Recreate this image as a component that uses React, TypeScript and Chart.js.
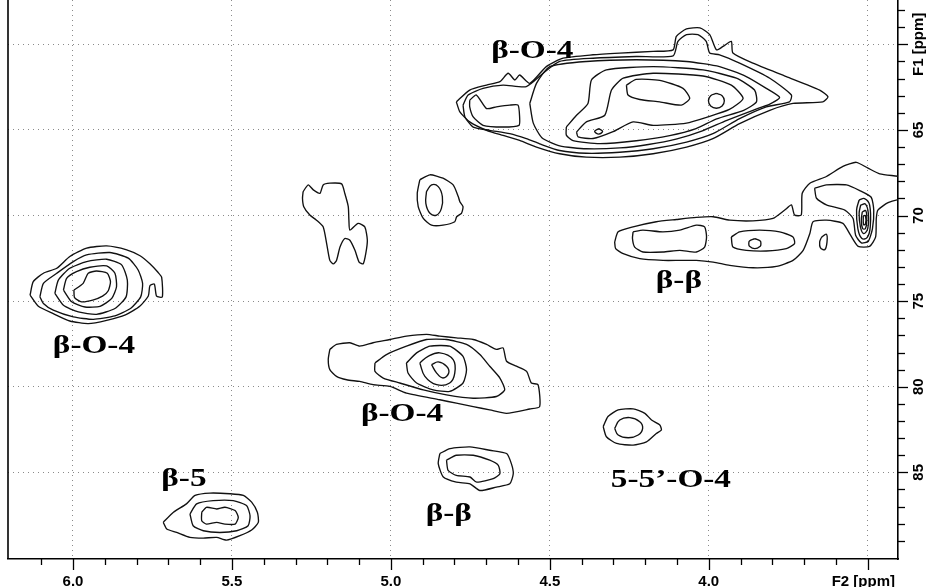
import React, { useEffect, useRef } from "react";
import { Chart, registerables } from "chart.js";

Chart.register(...registerables);

type P = [number, number];

// ---- axes (ppm) ----
const F2_LIMITS = [3.4047, 6.2044];
const F1_LIMITS = [57.41, 90.06];
const F2_MAJOR = [6.0, 5.5, 5.0, 4.5, 4.0, 3.5];
const F2_TICK_LABELS = ["6.0", "5.5", "5.0", "4.5", "4.0", "F2 [ppm]"];
const F1_MAJOR = [60, 65, 70, 75, 80, 85];
const F1_TICK_LABELS = ["F1 [ppm]", "65", "70", "75", "80", "85"];
const F2_MINOR_STEP = 0.1;
const F1_MINOR_STEP = 1;

// ---- peak annotations ----
const PEAK_TEXT = ["β-O-4", "β-O-4", "β-O-4", "β-β", "β-β", "β-5", "5-5’-O-4"];
const PEAK_F2 = [4.555, 5.934, 4.965, 4.094, 4.818, 5.651, 4.119];
const PEAK_F1 = [60.82, 78.05, 81.99, 74.23, 87.84, 85.8, 85.86];

// ---- contour lines: [F2 ppm, F1 ppm] ----
const TOP_L1: P[] = [[4.794,63.36],[4.752,62.67],[4.699,62.38],[4.657,62.18],[4.631,61.69],[4.610,62.08],[4.595,61.79],[4.563,62.28],[4.511,61.30],[4.458,60.81],[4.364,60.61],[4.280,60.51],[4.175,60.41],[4.112,60.32],[4.102,59.53],[4.070,59.10],[4.028,59.04],[3.997,59.43],[3.976,60.32],[3.955,60.12],[3.929,59.83],[3.924,60.51],[3.861,61.10],[3.756,61.88],[3.651,62.67],[3.625,63.06],[3.641,63.36],[3.735,63.45],[3.808,63.85],[3.903,64.63],[3.987,65.51],[4.070,66.00],[4.175,66.39],[4.280,66.59],[4.385,66.59],[4.469,66.39],[4.542,66.00],[4.595,65.61],[4.647,65.32],[4.699,65.02],[4.752,64.53],[4.783,63.94]];
const TOP_L2: P[] = [[4.773,63.55],[4.757,62.96],[4.710,62.57],[4.647,62.38],[4.574,62.47],[4.521,61.69],[4.469,61.00],[4.364,60.81],[4.228,60.71],[4.112,60.67],[4.097,59.83],[4.070,59.43],[4.034,59.43],[4.008,59.83],[3.997,60.51],[3.966,60.61],[3.903,61.10],[3.808,61.98],[3.740,62.96],[3.746,63.36],[3.819,63.65],[3.903,64.34],[3.987,65.22],[4.070,65.71],[4.175,66.10],[4.280,66.30],[4.385,66.36],[4.469,66.20],[4.532,65.81],[4.574,65.51],[4.626,65.22],[4.689,65.02],[4.741,64.83],[4.767,64.24]];
const TOP_LOBE: P[] = [[4.752,63.26],[4.731,62.96],[4.699,63.75],[4.668,63.65],[4.626,63.55],[4.600,63.55],[4.595,64.24],[4.597,64.73],[4.647,64.83],[4.710,64.73],[4.741,64.24],[4.752,63.65]];
const TOP_L3: P[] = [[4.563,63.45],[4.542,62.28],[4.500,61.30],[4.385,61.00],[4.228,60.90],[4.070,61.00],[3.966,61.30],[3.882,61.88],[3.819,62.57],[3.777,63.10],[3.808,63.49],[3.861,63.85],[3.945,64.45],[4.020,65.05],[4.100,65.52],[4.190,65.85],[4.280,66.05],[4.385,66.10],[4.469,65.93],[4.525,65.45],[4.552,64.60]];
const TOP_L4: P[] = [[4.448,64.83],[4.416,64.14],[4.380,63.45],[4.369,62.08],[4.322,61.49],[4.175,61.30],[4.018,61.49],[3.913,61.98],[3.856,62.67],[3.850,63.36],[3.890,63.85],[3.975,64.35],[4.040,64.92],[4.123,65.33],[4.228,65.63],[4.343,65.80],[4.427,65.62],[4.448,65.30]];
const TOP_L5: P[] = [[4.416,65.12],[4.385,64.53],[4.327,64.14],[4.306,62.67],[4.269,61.98],[4.175,61.69],[4.018,61.85],[3.929,62.38],[3.892,63.16],[3.935,63.80],[4.005,64.25],[4.070,64.60],[4.175,64.73],[4.238,64.53],[4.301,65.10],[4.364,65.50],[4.411,65.41]];
const TOP_CORE1: P[] = [[4.259,62.38],[4.228,62.05],[4.154,62.10],[4.081,62.57],[4.060,63.16],[4.086,63.55],[4.154,63.36],[4.217,63.22],[4.254,62.96]];
const TOP_CORE2: P[] = [[3.976,62.87],[3.958,63.00],[3.951,63.30],[3.958,63.60],[3.976,63.73],[3.994,63.60],[4.001,63.30],[3.994,63.00]];
const TOP_CORE3: P[] = [[4.346,64.92],[4.334,65.08],[4.346,65.24],[4.359,65.08]];

const LEFT_L1: P[] = [[6.135,74.65],[6.125,73.86],[6.093,73.37],[6.051,73.08],[6.010,72.39],[5.957,71.90],[5.894,71.77],[5.831,72.00],[5.789,72.35],[5.758,72.82],[5.732,73.33],[5.721,73.61],[5.719,74.75],[5.737,74.71],[5.744,74.00],[5.758,74.10],[5.763,74.70],[5.790,75.30],[5.835,75.80],[5.894,76.12],[5.952,76.31],[6.010,76.16],[6.062,75.73],[6.109,75.30]];
const LEFT_L2: P[] = [[6.104,74.75],[6.093,73.96],[6.051,73.37],[5.999,72.69],[5.957,72.30],[5.884,72.16],[5.826,72.49],[5.795,73.18],[5.781,73.96],[5.787,74.75],[5.819,75.43],[5.873,75.88],[5.936,76.06],[5.999,75.92],[6.062,75.53],[6.093,75.14]];
const LEFT_L3: P[] = [[6.057,74.55],[6.046,73.77],[6.010,73.08],[5.957,72.69],[5.894,72.55],[5.847,72.88],[5.829,73.77],[5.833,74.75],[5.868,75.43],[5.926,75.77],[5.983,75.63],[6.030,75.24]];
const LEFT_L4: P[] = [[6.030,74.35],[6.020,73.67],[5.989,73.28],[5.947,73.02],[5.894,72.94],[5.868,73.37],[5.863,74.16],[5.878,74.84],[5.915,75.30],[5.962,75.34],[6.004,75.04]];
const LEFT_L5: P[] = [[5.997,74.35],[5.968,73.96],[5.952,73.37],[5.926,73.24],[5.892,73.37],[5.882,73.86],[5.889,74.39],[5.907,74.71],[5.938,74.94],[5.973,75.04],[5.995,74.79]];

const MID_L1: P[] = [[5.192,77.82],[5.171,77.53],[5.129,77.43],[5.098,77.63],[5.056,77.43],[5.003,77.24],[4.951,77.04],[4.888,76.94],[4.846,77.04],[4.794,77.14],[4.741,77.24],[4.699,77.53],[4.668,77.82],[4.647,77.73],[4.636,78.51],[4.605,78.80],[4.573,79.10],[4.558,79.78],[4.537,79.88],[4.532,81.16],[4.563,81.30],[4.636,81.55],[4.689,81.35],[4.741,81.16],[4.794,80.96],[4.846,80.76],[4.951,80.37],[5.003,79.98],[5.056,79.88],[5.098,79.69],[5.139,79.59],[5.171,79.39],[5.192,79.00],[5.197,78.41]];
const MID_L2: P[] = [[5.050,78.61],[5.014,78.12],[4.951,77.63],[4.888,77.24],[4.825,77.24],[4.762,77.53],[4.720,78.12],[4.689,78.80],[4.657,79.49],[4.642,80.18],[4.668,80.57],[4.741,80.67],[4.825,80.47],[4.898,80.18],[4.972,79.78],[5.024,79.49],[5.050,79.10]];
const MID_L3: P[] = [[4.951,78.61],[4.919,78.02],[4.877,77.63],[4.815,77.63],[4.773,78.22],[4.762,79.00],[4.773,79.78],[4.815,80.27],[4.867,80.18],[4.919,79.78],[4.946,79.20]];
const MID_L4: P[] = [[4.909,78.61],[4.883,78.22],[4.846,78.02],[4.804,78.41],[4.799,79.20],[4.815,79.78],[4.856,79.88],[4.893,79.39]];
const MID_L5: P[] = [[4.872,78.71],[4.851,78.55],[4.825,78.80],[4.818,79.20],[4.836,79.49],[4.856,79.20]];

const BBLOW_OUT: P[] = [[4.846,83.90],[4.814,83.61],[4.751,83.51],[4.689,83.71],[4.636,83.90],[4.621,84.49],[4.615,85.08],[4.626,85.67],[4.668,85.86],[4.720,86.06],[4.751,85.67],[4.794,85.57],[4.835,85.27],[4.851,84.49]];
const BBLOW_IN: P[] = [[4.825,84.29],[4.794,84.00],[4.741,84.00],[4.689,84.29],[4.662,84.59],[4.657,85.08],[4.678,85.37],[4.730,85.57],[4.751,85.27],[4.794,85.18],[4.820,84.88]];

const B5_OUT: P[] = [[5.716,87.92],[5.684,87.33],[5.643,86.84],[5.616,86.35],[5.569,86.21],[5.506,86.25],[5.464,86.35],[5.438,86.74],[5.420,87.33],[5.417,87.92],[5.438,88.37],[5.475,88.70],[5.517,88.96],[5.548,88.80],[5.590,88.84],[5.632,88.80],[5.674,88.51],[5.705,88.31]];
const B5_MID: P[] = [[5.632,87.43],[5.611,86.84],[5.559,86.65],[5.496,86.65],[5.454,86.94],[5.443,87.53],[5.449,88.12],[5.485,88.41],[5.538,88.51],[5.590,88.41],[5.622,88.12]];
const B5_IN: P[] = [[5.595,87.33],[5.580,87.04],[5.548,87.14],[5.522,87.04],[5.490,87.23],[5.480,87.63],[5.490,88.02],[5.522,88.02],[5.548,87.92],[5.580,88.02],[5.595,87.82]];

const BLOB_WEST: P[] = [[5.276,68.60],[5.260,68.21],[5.244,68.50],[5.223,68.70],[5.213,68.21],[5.192,68.11],[5.155,68.15],[5.145,68.70],[5.134,69.48],[5.132,70.27],[5.129,70.85],[5.103,70.46],[5.082,70.66],[5.074,71.44],[5.079,72.23],[5.087,72.82],[5.100,72.72],[5.113,72.03],[5.129,71.44],[5.145,71.34],[5.160,71.84],[5.171,72.62],[5.181,72.82],[5.192,72.62],[5.202,71.64],[5.213,70.66],[5.234,70.27],[5.255,69.97],[5.274,69.48],[5.278,68.99]];
const BLOB_EAST_OUT: P[] = [[4.909,67.91],[4.877,67.62],[4.836,67.82],[4.804,68.21],[4.788,68.89],[4.783,69.19],[4.773,69.48],[4.778,69.87],[4.793,70.07],[4.799,70.36],[4.836,70.56],[4.872,70.56],[4.898,70.17],[4.914,69.48],[4.917,68.70]];
const BLOB_EAST_IN: P[] = [[4.888,68.60],[4.872,68.21],[4.851,68.31],[4.838,68.89],[4.841,69.58],[4.856,69.97],[4.877,69.87],[4.890,69.29]];

const SS_OUT: P[] = [[4.332,82.33],[4.317,81.74],[4.285,81.35],[4.238,81.29],[4.201,81.55],[4.180,81.94],[4.154,82.23],[4.149,82.53],[4.165,82.73],[4.196,83.22],[4.238,83.41],[4.290,83.31],[4.322,82.92]];
const SS_IN: P[] = [[4.296,82.43],[4.280,81.94],[4.248,81.80],[4.217,82.04],[4.208,82.43],[4.222,82.82],[4.253,82.98],[4.285,82.82]];

const BB_OUT: P[] = [[4.296,71.54],[4.285,70.95],[4.238,70.66],[4.165,70.36],[4.102,70.23],[4.039,70.11],[3.986,70.07],[3.934,70.27],[3.861,70.31],[3.798,70.17],[3.761,69.68],[3.740,69.38],[3.730,69.97],[3.709,69.97],[3.706,68.70],[3.682,68.11],[3.630,67.72],[3.578,67.13],[3.536,66.89],[3.499,67.23],[3.462,67.56],[3.399,67.72],[3.363,67.91],[3.363,68.99],[3.399,69.05],[3.436,69.25],[3.468,69.68],[3.473,70.17],[3.475,71.25],[3.494,71.80],[3.530,71.80],[3.554,71.15],[3.578,70.46],[3.630,70.27],[3.672,70.36],[3.682,71.05],[3.703,72.03],[3.735,72.62],[3.787,72.97],[3.861,73.05],[3.934,72.91],[3.986,72.72],[4.039,72.62],[4.091,72.62],[4.144,72.62],[4.217,72.52],[4.269,72.23],[4.293,71.93]];
const BB_UPPER: P[] = [[3.667,68.40],[3.630,68.21],[3.567,68.21],[3.525,68.54],[3.489,68.93],[3.481,69.68],[3.485,70.76],[3.498,71.50],[3.520,71.60],[3.538,71.15],[3.546,70.17],[3.572,69.68],[3.630,69.38],[3.661,68.99]];
const BB_TALL2: P[] = [[3.527,69.09],[3.510,69.01],[3.494,69.38],[3.492,70.66],[3.502,71.29],[3.519,71.33],[3.531,70.76],[3.535,69.68]];
const BB_TALL3: P[] = [[3.522,69.38],[3.507,69.33],[3.498,69.87],[3.500,70.76],[3.513,71.05],[3.523,70.66],[3.527,69.87]];
const BB_TALL4: P[] = [[3.517,69.78],[3.506,69.72],[3.503,70.27],[3.507,70.76],[3.516,70.76],[3.520,70.27]];
const BB_TALL5: P[] = [[3.514,70.03],[3.507,70.01],[3.507,70.50],[3.513,70.52]];
const BB_SPOT: P[] = [[3.646,71.29],[3.630,71.09],[3.628,71.54],[3.635,71.99],[3.649,71.87],[3.651,71.54]];
const BB_LEFT_IN: P[] = [[4.238,70.95],[4.207,70.85],[4.144,70.95],[4.091,70.85],[4.039,70.56],[4.013,70.66],[4.007,71.25],[4.013,71.84],[4.039,72.13],[4.091,72.03],[4.144,72.13],[4.207,72.13],[4.233,71.84],[4.240,71.34]];
const BB_RIGHT_IN: P[] = [[3.929,71.25],[3.903,70.95],[3.840,70.85],[3.777,70.95],[3.735,71.25],[3.730,71.64],[3.756,71.93],[3.819,72.07],[3.882,72.03],[3.924,71.84]];
const BB_RIGHT_CORE: P[] = [[3.855,71.35],[3.838,71.49],[3.836,71.64],[3.838,71.79],[3.855,71.93],[3.872,71.79],[3.874,71.64],[3.872,71.49]];

const CONTOURS: P[][] = [
  TOP_L1, TOP_L2, TOP_LOBE, TOP_L3, TOP_L4, TOP_L5, TOP_CORE1, TOP_CORE2, TOP_CORE3,
  LEFT_L1, LEFT_L2, LEFT_L3, LEFT_L4, LEFT_L5,
  MID_L1, MID_L2, MID_L3, MID_L4, MID_L5,
  BBLOW_OUT, BBLOW_IN,
  B5_OUT, B5_MID, B5_IN,
  BLOB_WEST, BLOB_EAST_OUT, BLOB_EAST_IN,
  SS_OUT, SS_IN,
  BB_OUT, BB_UPPER, BB_TALL2, BB_TALL3, BB_TALL4, BB_TALL5, BB_SPOT,
  BB_LEFT_IN, BB_RIGHT_IN, BB_RIGHT_CORE,
];

const TICK_FONT = "bold 15px 'Liberation Sans', Arial, sans-serif";
const PEAK_FONT = "bold 26px 'Liberation Serif', 'Times New Roman', serif";

const axesPlugin = {
  id: "nmrAxes",
  afterDraw(chart: any) {
    const { ctx, chartArea: a, scales } = chart;
    const xs = scales.x;
    const ys = scales.y;
    ctx.save();
    ctx.strokeStyle = "#000";
    ctx.fillStyle = "#000";
    // left frame line
    ctx.lineWidth = 1.6;
    ctx.beginPath();
    ctx.moveTo(a.left, a.top);
    ctx.lineTo(a.left, a.bottom);
    ctx.stroke();

    // x tick marks
    ctx.lineWidth = 1.3;
    const k0 = Math.ceil(F2_LIMITS[0] / F2_MINOR_STEP - 1e-6);
    const k1 = Math.floor(F2_LIMITS[1] / F2_MINOR_STEP + 1e-6);
    for (let k = k0; k <= k1; k++) {
      const v = k * F2_MINOR_STEP;
      const px = xs.getPixelForValue(v);
      if (px < a.left + 3 || px > a.right - 3) continue;
      const major = F2_MAJOR.some((m) => Math.abs(m - v) < 1e-6);
      const x = Math.round(px) + 0.5;
      ctx.beginPath();
      ctx.moveTo(x, a.bottom);
      ctx.lineTo(x, a.bottom + (major ? 11 : 6));
      ctx.stroke();
    }
    // y tick marks
    const j0 = Math.ceil(F1_LIMITS[0] / F1_MINOR_STEP - 1e-6);
    const j1 = Math.floor(F1_LIMITS[1] / F1_MINOR_STEP + 1e-6);
    for (let j = j0; j <= j1; j++) {
      const v = j * F1_MINOR_STEP;
      const py = ys.getPixelForValue(v);
      if (py < a.top + 3 || py > a.bottom - 3) continue;
      const major = F1_MAJOR.some((m) => Math.abs(m - v) < 1e-6);
      const y = Math.round(py) + 0.5;
      ctx.beginPath();
      ctx.moveTo(a.right, y);
      ctx.lineTo(a.right + (major ? 10 : 7), y);
      ctx.stroke();
    }

    // x labels
    ctx.font = TICK_FONT;
    ctx.textBaseline = "alphabetic";
    F2_MAJOR.forEach((v, i) => {
      const isTitle = i === F2_MAJOR.length - 1;
      ctx.textAlign = isTitle ? "right" : "center";
      const px = isTitle ? a.right - 3 : xs.getPixelForValue(v);
      ctx.fillText(F2_TICK_LABELS[i], px, a.bottom + 27);
    });
    // y labels (rotated)
    F1_MAJOR.forEach((v, i) => {
      const py = ys.getPixelForValue(v);
      ctx.save();
      ctx.translate(a.right + 25, py);
      ctx.rotate(-Math.PI / 2);
      ctx.textAlign = "center";
      ctx.fillText(F1_TICK_LABELS[i], 0, 0);
      ctx.restore();
    });

    // peak labels
    ctx.font = PEAK_FONT;
    ctx.textAlign = "center";
    PEAK_TEXT.forEach((t, i) => {
      const px = xs.getPixelForValue(PEAK_F2[i]);
      const py = ys.getPixelForValue(PEAK_F1[i]);
      ctx.save();
      ctx.translate(px, py);
      ctx.scale(1.28, 1);
      ctx.fillText(t, 0, 0);
      ctx.restore();
    });
    ctx.restore();
  },
};

export default function App() {
  const canvasRef = useRef<HTMLCanvasElement | null>(null);

  useEffect(() => {
    const canvas = canvasRef.current;
    if (!canvas) return;
    const datasets = CONTOURS.map((pts) => ({
      data: pts.concat([pts[0]]).map(([x, y]) => ({ x, y })),
      showLine: true,
      pointRadius: 0,
      borderColor: "#111",
      borderWidth: 1.35,
      fill: false,
      tension: pts.length <= 8 ? 0.4 : 0.2,
    }));
    const gridStyle = { color: "#8a8a8a", lineWidth: 1, drawTicks: false };
    const chart = new Chart(canvas, {
      type: "scatter",
      data: { datasets },
      options: {
        animation: false,
        responsive: true,
        maintainAspectRatio: false,
        events: [],
        layout: { padding: { left: 8, top: 0, right: 0, bottom: 0 } },
        plugins: { legend: { display: false }, tooltip: { enabled: false } },
        scales: {
          x: {
            type: "linear",
            position: "bottom",
            reverse: true,
            min: F2_LIMITS[0],
            max: F2_LIMITS[1],
            afterBuildTicks: (s: any) => {
              s.ticks = F2_MAJOR.map((v) => ({ value: v }));
            },
            afterFit: (s: any) => {
              s.height = 28;
            },
            ticks: { display: false },
            grid: gridStyle,
            border: { display: true, color: "#000", width: 1.6, dash: [1, 4] },
          },
          y: {
            type: "linear",
            position: "right",
            reverse: true,
            min: F1_LIMITS[0],
            max: F1_LIMITS[1],
            afterBuildTicks: (s: any) => {
              s.ticks = F1_MAJOR.map((v) => ({ value: v }));
            },
            afterFit: (s: any) => {
              s.width = 30;
            },
            ticks: { display: false },
            grid: gridStyle,
            border: { display: true, color: "#000", width: 1.6, dash: [1, 4] },
          },
        },
      } as any,
      plugins: [axesPlugin],
    });
    return () => chart.destroy();
  }, []);

  return (
    <div style={{ position: "absolute", left: 0, top: 0, width: 928, height: 587, background: "#fff" }}>
      <canvas ref={canvasRef} />
    </div>
  );
}
